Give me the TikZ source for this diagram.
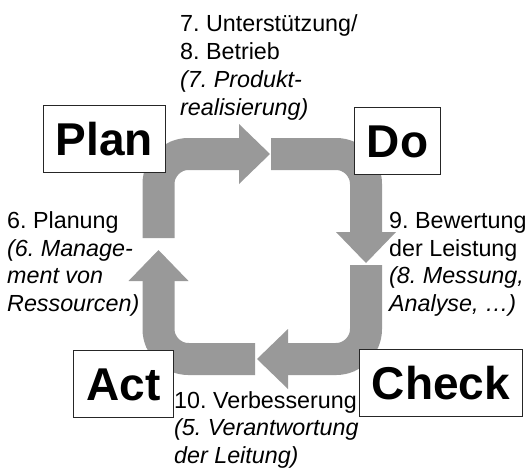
\documentclass[tikz,border=0pt]{standalone}
\usepackage{fontspec}
\setmainfont{Liberation Sans}
\usetikzlibrary{arrows.meta}
\definecolor{cyclegray}{RGB}{153,153,153}
\frenchspacing

\begin{document}
\begin{tikzpicture}[x=1pt,y=-1pt,
  phase/.style={draw=black!85,line width=1pt,fill=white,inner xsep=12.5pt,inner ysep=0pt,
    minimum height=67pt,text height=33pt,text depth=0pt,font=\fontsize{46}{50}\selectfont\bfseries},
  note/.style={anchor=base west,align=left,inner sep=0pt,font=\fontsize{23.3}{27.7}\selectfont},
  cyclearrow/.style={cyclegray,line width=32pt,rounded corners=30pt,
    arrows={-{Triangle[length=31pt,width=60pt,line width=0pt]}}}]

\useasboundingbox (0,0) rectangle (525,469);

\draw [cyclearrow] (158.5,238) |- (270,154);
\draw [cyclearrow] (271,154) -| (366,263);
\draw [cyclearrow] (366,265) |- (257,359);
\draw [cyclearrow] (255,359) -| (158.5,250);

\node [note] (support) at (180,115) {7. Unterstützung/\\8. Betrieb\\\textit{(7. Produkt-}\\\textit{realisierung)}};
\node [note] (planning) at (7,311.5) {6. Planung\\\textit{(6. Manage-}\\\textit{ment von}\\\textit{Ressourcen)}};
\node [note] (evaluation) at (389,311.5) {9. Bewertung\\der Leistung\\\textit{(8. Messung,}\\\textit{Analyse, …)}};
\node [note] (improvement) at (174,463.5) {10. Verbesserung\\\textit{(5. Verantwortung}\\\textit{der Leitung)}};

\node [phase] (plan) at (104.5,139) {Plan};
\node [phase] (do) at (397.5,141) {Do};
\node [phase] (act) at (123.5,384) {Act};
\node [phase] (check) at (441,383) {Check};

\end{tikzpicture}
\end{document}
